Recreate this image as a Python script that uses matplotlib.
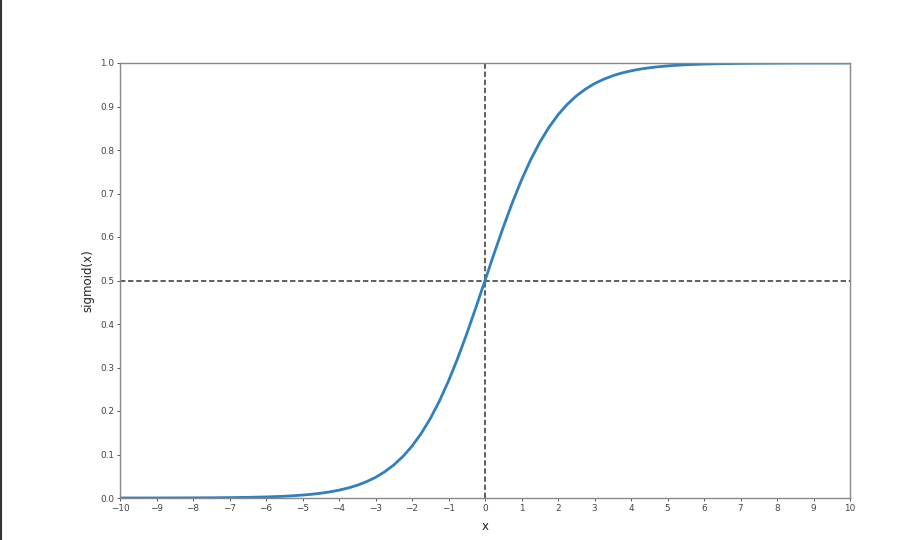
import matplotlib
matplotlib.use("Agg")
import matplotlib.pyplot as plt
from matplotlib.lines import Line2D

x_vals = [-10, -9.5, -9, -8.5, -8, -7.5, -7, -6.5, -6,
          -5.75, -5.5, -5.25, -5, -4.75, -4.5, -4.25, -4, -3.75, -3.5, -3.25,
          -3, -2.75, -2.5, -2.25, -2, -1.75, -1.5, -1.25, -1, -0.75, -0.5, -0.25,
          0, 0.25, 0.5, 0.75, 1, 1.25, 1.5, 1.75, 2, 2.25, 2.5, 2.75,
          3, 3.25, 3.5, 3.75, 4, 4.25, 4.5, 4.75, 5, 5.25, 5.5, 5.75, 6,
          6.5, 7, 7.5, 8, 8.5, 9, 9.5, 10]
y_vals = [0.000045, 0.000075, 0.000123, 0.000204, 0.000335, 0.000553, 0.000911, 0.001501, 0.002473,
          0.003173, 0.004070, 0.005220, 0.006693, 0.008577, 0.010987, 0.014064, 0.017986, 0.022978, 0.029312, 0.037327,
          0.047426, 0.060087, 0.075858, 0.095349, 0.119203, 0.148047, 0.182426, 0.222700, 0.268941, 0.320821, 0.377541, 0.437823,
          0.5, 0.562177, 0.622459, 0.679179, 0.731059, 0.777300, 0.817574, 0.851953, 0.880797, 0.904651, 0.924142, 0.939913,
          0.952574, 0.962673, 0.970688, 0.977022, 0.982014, 0.985936, 0.989013, 0.991423, 0.993307, 0.994780, 0.995930, 0.996827, 0.997527,
          0.998499, 0.999089, 0.999447, 0.999665, 0.999797, 0.999877, 0.999925, 0.999955]

x_ticks = list(range(-10, 11))
y_ticks = [0.0, 0.1, 0.2, 0.3, 0.4, 0.5, 0.6, 0.7, 0.8, 0.9, 1.0]
h_ref = 0.5
v_ref = 0

fig = plt.figure(figsize=(9.22, 5.40), dpi=100)
ax = fig.add_axes([120 / 922, 1 - 498 / 540, 730 / 922, 435 / 540])

ax.axhline(h_ref, color="#333333", lw=1.1, ls=(0, (3.5, 1.8)), zorder=1)
ax.axvline(v_ref, color="#333333", lw=1.1, ls=(0, (3.5, 1.8)), zorder=1)
ax.plot(x_vals, y_vals, color="#2f7fc1", lw=2.0, zorder=2, solid_capstyle="butt")

ax.set_xlim(-10, 10)
ax.set_ylim(0, 1)
ax.set_xticks(x_ticks)
ax.set_yticks(y_ticks)
ax.set_xticklabels(["\u2212" + str(-t) if t < 0 else str(t) for t in x_ticks])
ax.set_yticklabels([f"{t:.1f}" for t in y_ticks])

for s in ax.spines.values():
    s.set_color("#888888")
    s.set_linewidth(1.0)
ax.tick_params(axis="both", labelsize=6.4, colors="#444444", length=2.5, width=0.7, pad=1.5)
ax.tick_params(axis="both", color="#555555")

ax.set_xlabel("x", fontsize=8.5, color="#222222", labelpad=5)
ax.set_ylabel("sigmoid(x)", fontsize=8.5, color="#222222", labelpad=4)

# left border line of the image
fig.add_artist(Line2D([1 / 922, 1 / 922], [0, 1], transform=fig.transFigure, color="#333333", lw=1.5))

fig.savefig("out.png", dpi=100)
